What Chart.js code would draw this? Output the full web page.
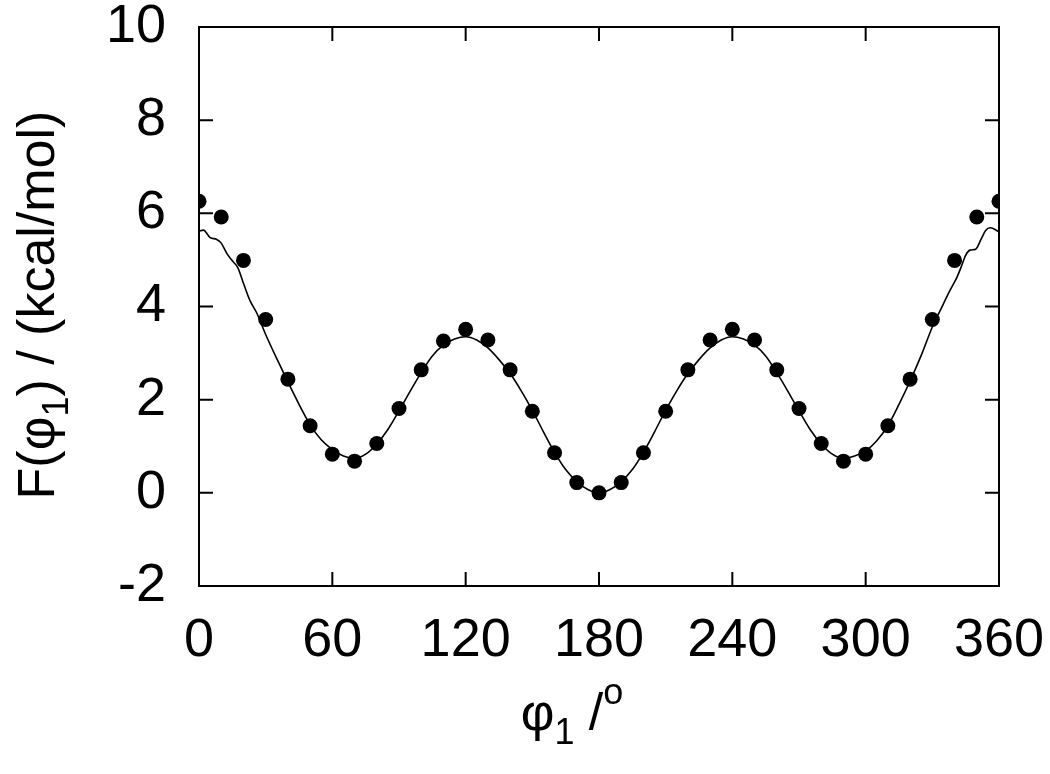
<!DOCTYPE html>
<html>
<head>
<meta charset="utf-8">
<script src="https://cdn.jsdelivr.net/npm/chart.js@4.4.1/dist/chart.umd.min.js"></script>
<style>
  html, body { margin: 0; padding: 0; background: #fff; }
  canvas { display: block; }
</style>
</head>
<body>
<canvas id="freeEnergyChart" width="1050" height="774"></canvas>
<script>
// free energy profile (solid curve)
const curveDeg = [0, 2, 5, 8, 10, 12.5, 15, 17.5, 20, 23, 26, 30, 35, 40, 45, 50, 55, 60, 65, 70, 75, 80, 85, 90, 95,
    100, 105, 110, 115, 120, 125, 130, 135, 140, 145, 150, 155, 160, 165, 170, 175, 180, 185, 190, 195,
    200, 205, 210, 215, 220, 225, 230, 235, 240, 245, 250, 255, 260, 265, 270, 275, 280, 285, 290, 295,
    300, 305, 310, 315, 320, 325, 330, 334, 338, 341, 343, 345, 347, 349.5, 352, 354, 356, 358, 360];
const curveF = [5.62, 5.64, 5.48, 5.44, 5.36, 5.14, 4.98, 4.83, 4.50, 4.12, 3.86, 3.40, 2.88, 2.38, 1.90, 1.46, 1.14, 0.93, 0.79, 0.74, 0.83, 1.05, 1.36, 1.76, 2.18,
    2.58, 2.94, 3.17, 3.30, 3.35, 3.28, 3.11, 2.86, 2.56, 2.19, 1.77, 1.31, 0.87, 0.50, 0.24, 0.07, 0.00, 0.07, 0.24, 0.50,
    0.87, 1.31, 1.77, 2.19, 2.56, 2.86, 3.11, 3.28, 3.35, 3.30, 3.17, 2.94, 2.58, 2.18, 1.76, 1.36, 1.05, 0.83, 0.74, 0.79,
    0.90, 1.12, 1.44, 1.90, 2.40, 2.95, 3.56, 3.96, 4.35, 4.62, 4.85, 5.10, 5.21, 5.23, 5.45, 5.63, 5.69, 5.66, 5.60];

// reference points (filled circles)
const dotDeg = [0, 10, 20, 30, 40, 50, 60, 70, 80, 90, 100, 110, 120, 130, 140, 150, 160, 170, 180,
    190, 200, 210, 220, 230, 240, 250, 260, 270, 280, 290, 300, 310, 320, 330, 340, 350, 360];
const dotF = [6.26, 5.92, 4.99, 3.72, 2.44, 1.44, 0.83, 0.68, 1.06, 1.81, 2.64, 3.26, 3.51, 3.28, 2.64, 1.75, 0.86, 0.22, 0.00,
    0.22, 0.86, 1.75, 2.64, 3.28, 3.51, 3.28, 2.64, 1.81, 1.06, 0.68, 0.83, 1.44, 2.44, 3.72, 4.99, 5.92, 6.26];

const xTicks = [0, 60, 120, 180, 240, 300, 360];
const yTicks = [-2, 0, 2, 4, 6, 8, 10];

const FONT = '"Liberation Sans", Arial, sans-serif';

const toPoints = (xs, ys) => xs.map((x, i) => ({ x: x, y: ys[i] }));

// frame, inward ticks and axis titles with sub/superscripts
const framePlugin = {
    id: 'frame',
    afterDraw(chart) {
        const { ctx, chartArea: a, scales } = chart;
        const len = 14;
        ctx.save();
        ctx.strokeStyle = '#000';
        ctx.lineWidth = 2;
        ctx.strokeRect(a.left, a.top, a.right - a.left, a.bottom - a.top);
        ctx.beginPath();
        xTicks.forEach(v => {
            const px = scales.x.getPixelForValue(v);
            ctx.moveTo(px, a.bottom); ctx.lineTo(px, a.bottom - len);
            ctx.moveTo(px, a.top); ctx.lineTo(px, a.top + len);
        });
        yTicks.forEach(v => {
            const py = scales.y.getPixelForValue(v);
            ctx.moveTo(a.left, py); ctx.lineTo(a.left + len, py);
            ctx.moveTo(a.right, py); ctx.lineTo(a.right - len, py);
        });
        ctx.stroke();

        ctx.fillStyle = '#000';
        ctx.textBaseline = 'alphabetic';
        ctx.textAlign = 'left';

        // x title: phi_1 /o
        const big = '52px ' + FONT, small = '36px ' + FONT;
        const pieces = [
            { t: 'φ', f: big, dy: 0 },
            { t: '1', f: small, dy: 14 },
            { t: ' /', f: big, dy: 0 },
            { t: 'o', f: small, dy: -26 }
        ];
        let total = 0;
        pieces.forEach(p => { ctx.font = p.f; total += ctx.measureText(p.t).width; });
        let x = (a.left + a.right) / 2 - total / 2 - 27;
        const base = 730;
        pieces.forEach(p => {
            ctx.font = p.f;
            ctx.fillText(p.t, x, base + p.dy);
            x += ctx.measureText(p.t).width;
        });

        // y title: F(phi_1) / (kcal/mol)
        const ypieces = [
            { t: 'F(φ', f: big, dy: 0 },
            { t: '1', f: small, dy: 14 },
            { t: ') / (kcal/mol)', f: big, dy: 0 }
        ];
        total = 0;
        ypieces.forEach(p => { ctx.font = p.f; total += ctx.measureText(p.t).width; });
        ctx.translate(54, 305);
        ctx.rotate(-Math.PI / 2);
        x = -total / 2;
        ypieces.forEach(p => {
            ctx.font = p.f;
            ctx.fillText(p.t, x, p.dy);
            x += ctx.measureText(p.t).width;
        });
        ctx.restore();
    }
};

new Chart(document.getElementById('freeEnergyChart'), {
    type: 'scatter',
    data: {
        datasets: [
            {
                label: 'points',
                data: toPoints(dotDeg, dotF),
                backgroundColor: '#000',
                borderColor: '#000',
                pointRadius: 7.5,
                pointBorderWidth: 0,
                showLine: false
            },
            {
                label: 'profile',
                data: toPoints(curveDeg, curveF),
                borderColor: '#000',
                borderWidth: 1.6,
                pointRadius: 0,
                showLine: true,
                fill: false,
                cubicInterpolationMode: 'monotone'
            }
        ]
    },
    options: {
        responsive: false,
        animation: false,
        layout: { padding: { left: 0, top: 27, right: 51, bottom: 0 } },
        plugins: {
            legend: { display: false },
            tooltip: { enabled: false }
        },
        scales: {
            x: {
                type: 'linear',
                min: 0,
                max: 360,
                afterBuildTicks: s => { s.ticks = xTicks.map(v => ({ value: v })); },
                afterFit: s => { s.height = 188; s.paddingLeft = 0; s.paddingRight = 0; },
                ticks: { color: '#000', font: { family: FONT, size: 54 }, padding: 23, maxRotation: 0 },
                grid: { display: false, drawTicks: false },
                border: { display: false }
            },
            y: {
                type: 'linear',
                min: -2,
                max: 10,
                afterBuildTicks: s => { s.ticks = yTicks.map(v => ({ value: v })); },
                afterFit: s => { s.width = 199; s.paddingTop = 0; s.paddingBottom = 0; },
                ticks: { color: '#000', font: { family: FONT, size: 54 }, padding: 33 },
                grid: { display: false, drawTicks: false },
                border: { display: false }
            }
        }
    },
    plugins: [framePlugin]
});
</script>
</body>
</html>
